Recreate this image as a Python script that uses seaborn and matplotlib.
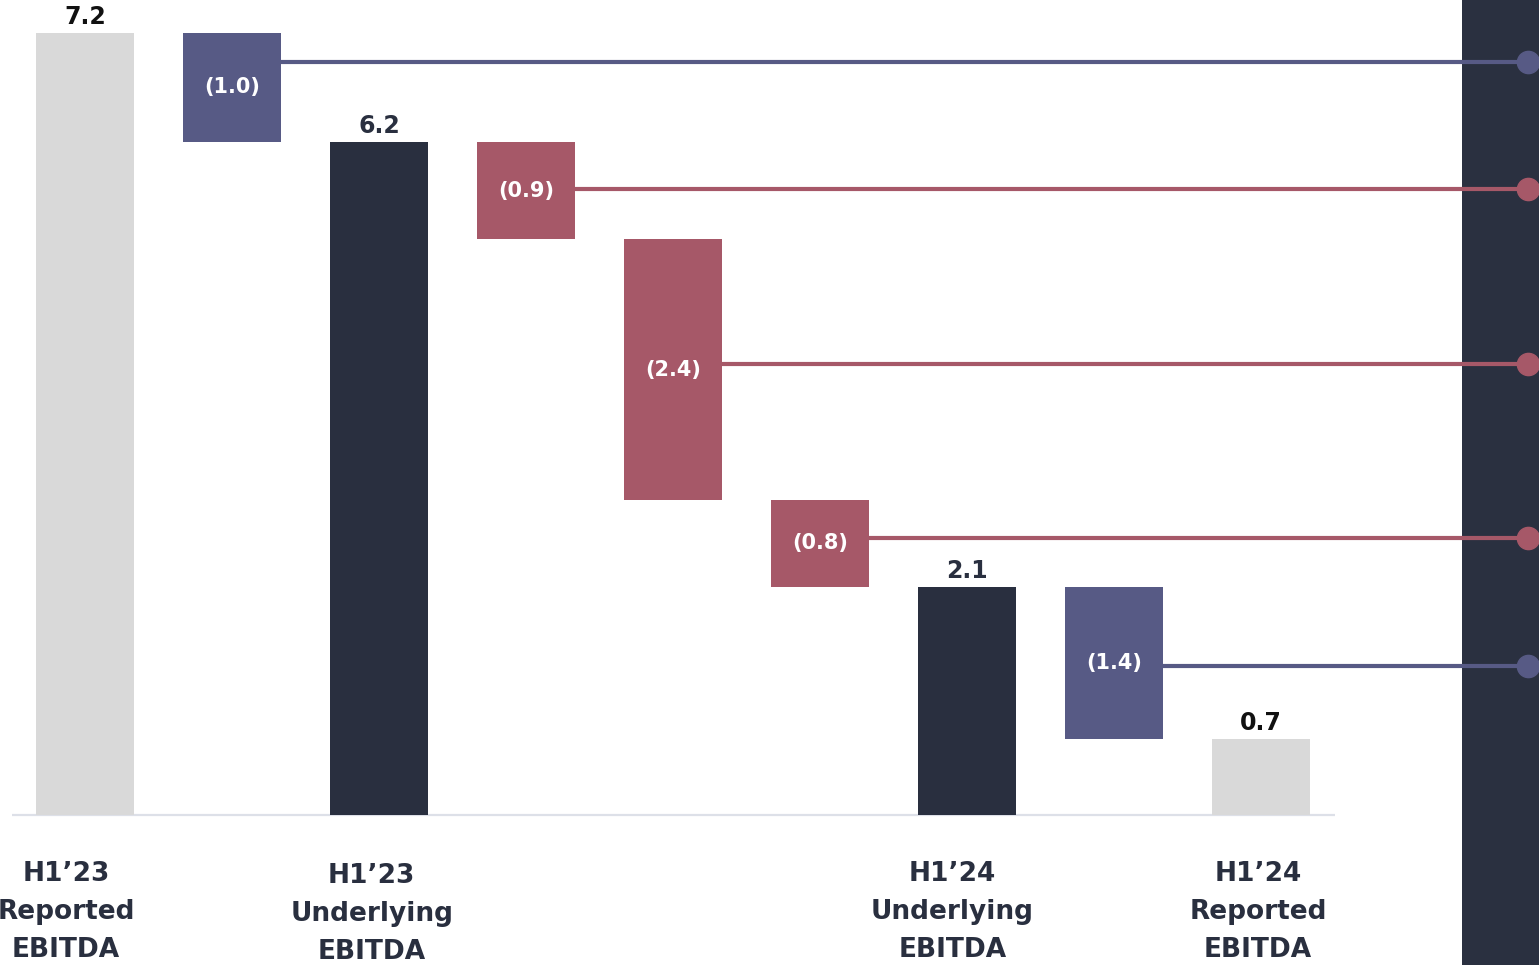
import matplotlib
matplotlib.use("Agg")
import matplotlib.pyplot as plt
import seaborn as sns
import numpy as np
import pandas as pd

# ---- data ----
steps = ["H1'23 Reported EBITDA", "adj1", "H1'23 Underlying EBITDA", "d1", "d2", "d3",
         "H1'24 Underlying EBITDA", "adj2", "H1'24 Reported EBITDA"]
values = [7.2, -1.0, 6.2, -0.9, -2.4, -0.8, 2.1, -1.4, 0.7]
kinds = ["total", "delta", "total", "delta", "delta", "delta", "total", "delta", "total"]
bar_labels = ["7.2", "(1.0)", "6.2", "(0.9)", "(2.4)", "(0.8)", "2.1", "(1.4)", "0.7"]
bar_colors = ["#D9D9D9", "#575A85", "#292F3F", "#A65868", "#A65868", "#A65868",
              "#292F3F", "#575A85", "#D9D9D9"]
callout_levels = [6.93, 5.76, 4.15, 2.55, 1.37]   # heights of the connector lines
axis_labels = {0: "H1\u201923\nReported\nEBITDA", 2: "H1\u201923\nUnderlying\nEBITDA",
               6: "H1\u201924\nUnderlying\nEBITDA", 8: "H1\u201924\nReported\nEBITDA"}

# ---- waterfall geometry from values ----
bottoms, heights = [], []
running = 0.0
for v, k in zip(values, kinds):
    if k == "total":
        running = v
        bottoms.append(0.0)
        heights.append(v)
    else:
        top = running
        running = running + v
        bottoms.append(running)
        heights.append(top - running)
pos = np.arange(len(values))
df = pd.DataFrame({"pos": pos, "height": heights})

sns.set_theme(style="white")
plt.rcParams["font.family"] = ["DejaVu Sans"]

W, H = 1539, 965
fig = plt.figure(figsize=(W / 100, H / 100), dpi=100)
ax = fig.add_axes([0, 0, 1, 1])

sns.barplot(data=df, x="pos", y="height", native_scale=True, width=0.667,
            bottom=np.array(bottoms), color="#D9D9D9", linewidth=0, ax=ax, zorder=3)
bars = ax.containers[-1]
for patch, c in zip(bars.patches, bar_colors):
    patch.set_facecolor(c)
    patch.set_edgecolor(c)

px_x = 147.0
px_y = 108.6
x0 = -85 / px_x
x1 = (W - 85) / px_x
y0 = -(H - 815) / px_y
y1 = 815 / px_y
ax.set_xlim(x0, x1)
ax.set_ylim(y0, y1)
for s in ax.spines.values():
    s.set_visible(False)
ax.set_xticks([])
ax.set_yticks([])
ax.set_xlabel("")
ax.set_ylabel("")

# right dark panel
ax.axvspan((1462 - 85) / px_x, x1, color="#2A3040", zorder=1, lw=0)

# baseline
ax.plot([(12 - 85) / px_x, (1335 - 85) / px_x], [0, 0], color="#DDE0E8", lw=1.6,
        zorder=2, solid_capstyle="butt")

# value labels
half = 0.667 / 2
delta_idx = [i for i, k in enumerate(kinds) if k == "delta"]
for i, (k, lab) in enumerate(zip(kinds, bar_labels)):
    top = bottoms[i] + heights[i]
    if k == "total":
        col = "#111111" if bar_colors[i] == "#D9D9D9" else "#292F3F"
        ax.annotate(lab, (pos[i], top), xytext=(0, 3), textcoords="offset points",
                    ha="center", va="bottom", fontsize=17, fontweight="bold",
                    color=col, zorder=5)
    else:
        ax.text(pos[i], bottoms[i] + heights[i] / 2, lab, ha="center", va="center",
                fontsize=15, fontweight="bold", color="white", zorder=5)

# connector lines with dots
dot_x = (1528 - 85) / px_x
for i, lvl in zip(delta_idx, callout_levels):
    c = bar_colors[i]
    ax.plot([pos[i] + half, dot_x], [lvl, lvl], color=c, lw=3, zorder=4,
            solid_capstyle="butt")
    ax.plot([dot_x], [lvl], marker="o", ms=16, color=c, mec=c, zorder=4,
            clip_on=False)

# category labels below axis
label_offsets = {0: -0.13, 2: -0.05, 6: -0.1, 8: -0.02}
label_tops = {0: 0.42, 2: 0.44, 6: 0.42, 8: 0.42}
for i, txt in axis_labels.items():
    ax.text(pos[i] + label_offsets[i], -label_tops[i], txt, ha="center", va="top",
            fontsize=19, fontweight="bold", color="#292F3F", linespacing=1.6,
            zorder=5)

fig.savefig("out.png", dpi=100)
